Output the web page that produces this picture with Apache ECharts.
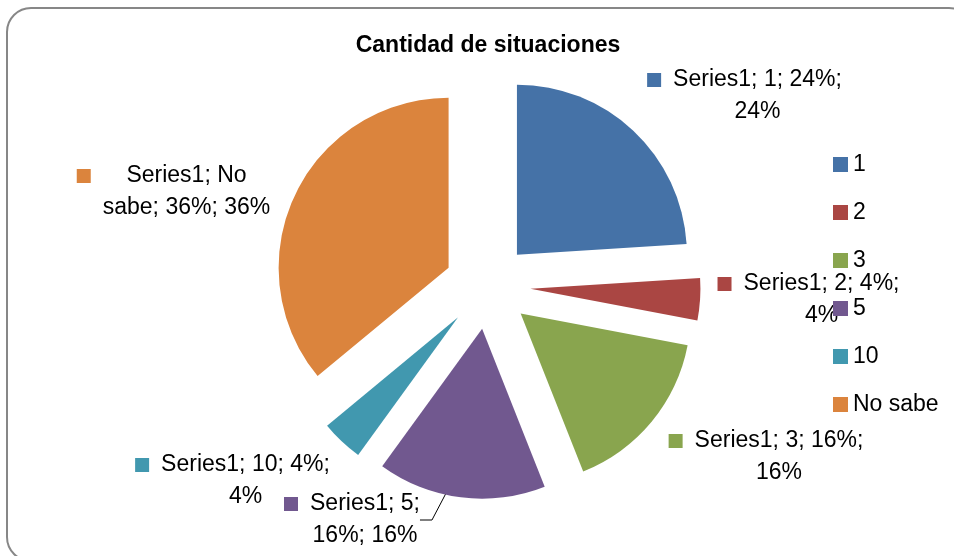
<!DOCTYPE html>
<html>
<head>
<meta charset="utf-8">
<script src="https://cdn.jsdelivr.net/npm/echarts@6/dist/echarts.min.js"></script>
<style>html,body{margin:0;padding:0;background:#fff;}#c{width:954px;height:556px;}</style>
</head>
<body>
<div id="c"></div>
<script>
const titleText = 'Cantidad de situaciones';
const seriesName = 'Series1';
const categories = ['1', '2', '3', '5', '10', 'No sabe'];
const values = [24, 4, 16, 16, 4, 36];
const colors = ['#4572A7', '#AA4643', '#89A54E', '#71588F', '#4198AF', '#DB843D'];
// number of words on the first line of each data label
const firstLineWords = [3, 3, 3, 2, 3, 2];
// label block anchor (center x, top y)
const labelPos = [[744.5, 64], [808.5, 268], [766, 425], [352, 488], [232.5, 449], [173.5, 160]];

const FONT = "'Liberation Sans', Arial, sans-serif";
const rich = {
  t: { fontSize: 23, fontFamily: FONT, color: '#000', lineHeight: 32, align: 'center' },
  g: { width: 12, height: 14, align: 'left' },
  p: { width: 26, height: 14, align: 'left' }
};
colors.forEach((c, i) => { rich['s' + i] = { width: 14, height: 14, backgroundColor: c, align: 'left' }; });

const pieBase = {
  type: 'pie',
  name: seriesName,
  center: [487.5, 286],
  radius: 170,
  startAngle: 90,
  avoidLabelOverlap: false,
  emphasis: { scale: false, disabled: true }
};

const chart = echarts.init(document.getElementById('c'), null, { renderer: 'canvas' });
chart.setOption({
  animation: false,
  color: colors,
  title: {
    text: titleText,
    left: 488, top: 34, textAlign: 'center', padding: 0,
    textStyle: { fontFamily: FONT, fontWeight: 'bold', fontSize: 23, color: '#000' }
  },
  legend: {
    orient: 'vertical', left: 833, top: 153, padding: 0,
    itemWidth: 15, itemHeight: 15, itemGap: 25,
    icon: 'rect',
    data: categories.map((c, i) => ({ name: c, itemStyle: { color: colors[i] } })),
    textStyle: { fontFamily: FONT, fontSize: 23, color: '#000' }
  },
  graphic: [{
    type: 'rect', silent: true, z: -1,
    shape: { x: 7, y: 8, width: 966, height: 553, r: 24 },
    style: { fill: 'none', stroke: '#878787', lineWidth: 2 }
  }],
  series: [
    Object.assign({}, pieBase, {
      z: 3,
      selectedMode: 'multiple',
      selectedOffset: 43,
      select: { itemStyle: { borderWidth: 0 } },
      itemStyle: { borderWidth: 0 },
      label: { show: false },
      labelLine: { show: false },
      data: categories.map((c, i) => ({ name: c, value: values[i], selected: true }))
    }),
    Object.assign({}, pieBase, {
      z: 2,
      silent: true,
      itemStyle: { color: 'transparent', borderWidth: 0 },
      label: {
        show: true, position: 'outside', align: 'center',
        formatter: function (p) {
          const i = p.dataIndex;
          const full = seriesName + '; ' + p.name + '; ' + p.value + '%; ' + Math.round(p.percent) + '%';
          const words = full.split(' ');
          const l1 = words.slice(0, firstLineWords[i]).join(' ');
          const l2 = words.slice(firstLineWords[i]).join(' ');
          return '{s' + i + '|}{g|}{t|' + l1 + '}\n{p|}{t|' + l2 + '}';
        },
        rich: rich
      },
      labelLine: { show: false, length: 10, length2: 12, smooth: false, lineStyle: { color: '#000', width: 1 } },
      labelLayout: function (params) {
        const pos = labelPos[params.dataIndex];
        return { x: pos[0], y: pos[1], align: 'center', verticalAlign: 'top' };
      },
      data: categories.map((c, i) => ({
        name: c, value: values[i],
        labelLine: { show: i === 3 }
      }))
    })
  ]
});
</script>
</body>
</html>
